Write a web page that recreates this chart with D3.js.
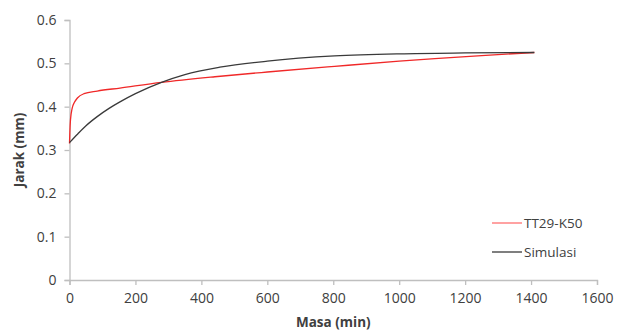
<!DOCTYPE html>
<html>
<head>
<meta charset="utf-8">
<script src="https://cdn.jsdelivr.net/npm/d3@7"></script>
<style>
  body { margin: 0; background: #fff; }
  svg text { font-family: "Open Sans", "Noto Sans", sans-serif; fill: #404040; }
</style>
</head>
<body>
<svg id="chart" width="622" height="334"></svg>
<script>
const measuredTime = [0, 1, 3, 8, 15, 24, 44, 84, 153, 279, 441, 600, 804, 1000, 1108, 1250, 1410];
const measuredDist = [0.315, 0.34, 0.37, 0.396, 0.41, 0.42, 0.43, 0.436, 0.443, 0.456, 0.469, 0.48, 0.493, 0.505, 0.511, 0.518, 0.525];

// simulated curve
const simTime = [0, 25, 50, 84, 120, 153, 200, 279, 350, 456, 600, 804, 1000, 1200, 1410];
const simDist = [0.317, 0.337, 0.356, 0.377, 0.396, 0.411, 0.43, 0.456, 0.474, 0.491, 0.505, 0.517, 0.522, 0.524, 0.525];

const xTicks = [0, 200, 400, 600, 800, 1000, 1200, 1400, 1600];
const yTicks = [0, 0.1, 0.2, 0.3, 0.4, 0.5, 0.6];

const seriesNames = ['TT29-K50', 'Simulasi'];
const seriesColors = ['#f02828', '#3a3a3a'];

const margin = {left: 69.5, top: 20, right: 25, bottom: 54};
const width = 622, height = 334;

const svg = d3.select('#chart');

const x = d3.scaleLinear().domain([0, 1600]).range([margin.left, width - margin.right]);
const y = d3.scaleLinear().domain([0, 0.6]).range([height - margin.bottom, margin.top]);

// axes
const xAxis = svg.append('g')
  .attr('transform', `translate(0, ${y(0)})`)
  .call(d3.axisBottom(x).tickValues(xTicks).tickSize(5).tickPadding(8).tickFormat(d3.format('d')));
const yAxis = svg.append('g')
  .attr('transform', `translate(${x(0)}, 0)`)
  .call(d3.axisLeft(y).tickValues(yTicks).tickSize(5).tickPadding(8).tickFormat(d => d === 0 ? '0' : d3.format('.1f')(d)));

[xAxis, yAxis].forEach(a => {
  a.selectAll('path, line').attr('stroke', '#bfbfbf').attr('stroke-width', 1.3);
  a.selectAll('text').attr('font-size', 14).attr('fill', '#404040').style('font-family', '"Open Sans", sans-serif');
});

// lines
const line = d3.line().curve(d3.curveMonotoneX).x(d => x(d[0])).y(d => y(d[1]));

const series = [
  d3.zip(measuredTime, measuredDist),
  d3.zip(simTime, simDist)
];

svg.selectAll('.series')
  .data(series)
  .enter()
  .append('path')
  .attr('d', line)
  .attr('fill', 'none')
  .attr('stroke', (d, i) => seriesColors[i])
  .attr('stroke-width', 1.3)
;

// axis titles
svg.append('text')
  .attr('x', (x(0) + x(1600)) / 2)
  .attr('y', 327)
  .attr('text-anchor', 'middle')
  .attr('font-size', 13.5)
  .attr('font-weight', 'bold')
  .text('Masa (min)');

svg.append('text')
  .attr('transform', `translate(24, ${(y(0) + y(0.6)) / 2}) rotate(-90)`)
  .attr('text-anchor', 'middle')
  .attr('font-size', 13.5)
  .attr('font-weight', 'bold')
  .text('Jarak (mm)');

// legend
const legend = svg.append('g').attr('transform', 'translate(492, 223)');
const item = legend.selectAll('.item')
  .data(seriesNames)
  .enter()
  .append('g')
  .attr('transform', (d, i) => `translate(0, ${i * 29})`);
item.append('line')
  .attr('x1', 0).attr('x2', 30)
  .attr('stroke', (d, i) => i === 0 ? '#ff7070' : seriesColors[i])
  .attr('stroke-width', 1.3);
item.append('text')
  .attr('x', 32)
  .attr('dy', '0.35em')
  .attr('font-size', 13.5)
  .text(d => d);
</script>
</body>
</html>
